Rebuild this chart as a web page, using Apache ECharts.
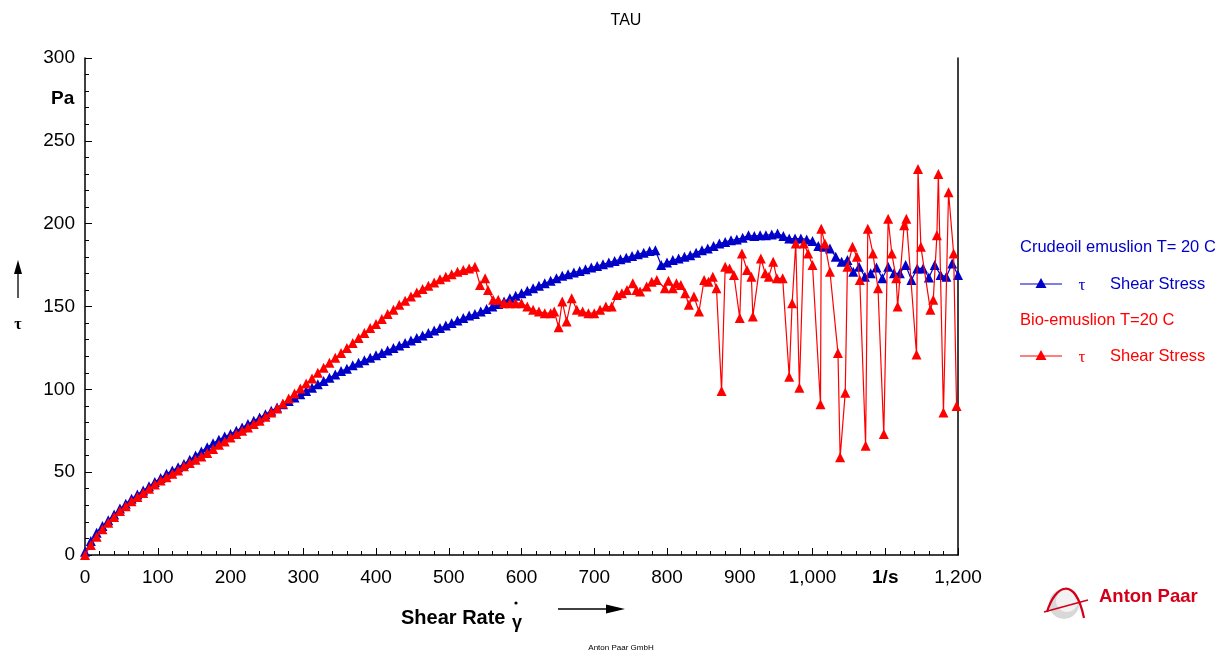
<!DOCTYPE html>
<html><head><meta charset="utf-8">
<script src="https://cdn.jsdelivr.net/npm/echarts@6/dist/echarts.min.js"></script>
<style>html,body{margin:0;padding:0;background:#fff;}#c{width:1227px;height:654px;}</style>
</head><body><div id="c"></div>
<script>
const titleText = 'TAU';
const xTicks = [0,100,200,300,400,500,600,700,800,900,1000,1100,1200];
const yTicks = [0,50,100,150,200,250,300];
const blueName = 'Crudeoil emuslion T= 20 C';
const redName = 'Bio-emuslion T=20 C';
const seriesLabel = 'Shear Stress';

const blueX = [0,8,16,24,32,40,48,56,64,72,80,88,96,104,112,120,128,136,144,152,160,168,176,184,192,200,208,216,224,232,240,248,256,264,272,280,288,296,304,312,320,328,336,344,352,360,368,376,384,392,400,408,416,424,432,440,448,456,464,472,480,488,496,504,512,520,528,536,544,552,560,568,576,584,592,600,608,616,624,632,640,648,656,664,672,680,688,696,704,712,720,728,736,744,752,760,768,776,784,792,800,808,816,824,832,840,848,856,864,872,880,888,896,904,912,920,928,936,944,952,960,968,976,984,992,1000,1008,1016,1024,1032,1040,1048,1056,1064,1072,1080,1088,1096,1104,1112,1120,1128,1136,1144,1152,1160,1168,1176,1184,1192,1200];
const blueY = [2,8.5,13.5,17.5,21,24.5,28,31,34,36.5,
39,41.5,44,46.5,49,51,53,55,57.5,60,
62.5,65,67.5,69.5,71.5,73,75,77,79,81,
83,85,87,89,91,93,95,97,99,101,
103,105,107,109,111,112.5,114.5,116,117.5,119,
120.5,122,123.5,125,126.5,128,129.5,131,132.5,134,
135.5,137,138.5,140,141.5,143,144.5,145.5,147,148.5,
150,151.5,153,155,156.5,158,159.5,161,162.5,164,
165.5,167,168.5,169.5,170.5,171.5,172.5,173.5,174.5,175.5,
176.5,177.5,178.5,179.5,180.5,181.5,182.5,183.5,184,175,
176.5,178,179,180,181,182.5,184,185,186.5,188,
189,190,190.5,191.5,193,192.5,193,193,193.5,194,
192.5,191,191,191,190.5,189.5,186.5,186,185,180,
177,178,171,174,168,170,173.5,167,174,170,
170,175,166,173,173,167.5,175,169,168,176,
169];

const redX = [0,8,16,24,32,40,48,56,64,72,80,88,96,104,112,120,128,136,144,152,160,168,176,184,192,200,208,216,224,232,240,248,256,264,272,280,288,296,304,312,320,328,336,344,352,360,368,376,384,392,400,408,416,424,432,440,448,456,464,472,480,488,496,504,512,520,528,536,
543,550,554,561,568,576,584,592,600,608,616,624,632,640,645,651,656,662,669,676,684,692,700,708,716,724,731,738,745,753,758,763,772,779,786,797,802,808,813,819,825,830,837,844,851,857,863,868,875,880,886,892,900,903,910,916,918,929,935,940,946,951,959,968,972,977,982,988,994,1000,1011,1012,1017,1024,1035,1038,1045,1048,1055,1061,1065,1073,1076,1083,1090,1098,1104,1109,1115,1117,1126,1129,1143,1145,1149,1162,1166,1171,1173,1180,1187,1194,1198];
const redY = [0,6,11,15.5,19.5,23,26.5,29.5,32.5,35,
37.5,40,42.5,45,47,49,51,53.5,55.5,57.5,
59.5,61.5,64,66.5,68.5,71,73,75,77,79,
81,83.5,86,88.5,91.5,94.5,97.5,100.5,103.5,106.5,
110,113,116,119,122,125,128,131,134,137,
139.5,142.5,145.5,148,151,153.5,156,158.5,160.5,162.5,
164.5,166.5,168,169.5,171,172,173,174,
163,167,160,154,154,152,152,152,152,150,148,147,146,146,147,137.5,153,141,155,148,147,146,146,148,150,150,157,158,160,164,160,159,162,165,166,161,165.5,161,164,163,158,151,156,147,166,165,168,161,99,174,173,169,143,182,172,168,144,179,170,168,177,167,167,107.6,152,188,101,188,182,175,91,197,188,171,122,59,98,174,186,180,166,66,197,182,161,73,203,182,167,150,199,203,121,233,186,148,154,193,230,86,219,182,90];

const BLUE = '#0000C8';
const RED = '#FF0000';
const FONT = 'Liberation Sans, Arial, sans-serif';

const blueData = blueX.map((x,i)=>[x, blueY[i]]);
const redData = redX.map((x,i)=>[x, redY[i]]);

const chart = echarts.init(document.getElementById('c'));
function tri(cx, cy, color){
  return {type:'polygon', shape:{points:[[cx,cy-6],[cx-5.5,cy+4],[cx+5.5,cy+4]]}, style:{fill:color}};
}
const option = {
  backgroundColor:'#fff',
  animation:false,
  title:{text:titleText, left:621, top:8, textAlign:'center', textStyle:{fontFamily:FONT, fontSize:16, fontWeight:'normal', color:'#000'}},
  grid:{left:85, right:269, top:58, bottom:99},
  xAxis:{type:'value', min:0, max:1200, interval:100,
    axisLine:{lineStyle:{color:'#000', width:1.5}},
    axisTick:{inside:true, length:7, lineStyle:{color:'#000'}},
    minorTick:{show:true, splitNumber:5, length:4, lineStyle:{color:'#000'}},
    splitLine:{show:false},
    axisLabel:{fontFamily:FONT, fontSize:19, color:'#000', margin:13,
      formatter:function(v){ if(v===1100) return '{b|1/s}'; return v>=1000 ? (Math.floor(v/1000)+','+String(v%1000).padStart(3,'0')) : String(v); },
      rich:{b:{fontFamily:FONT, fontSize:19, fontWeight:'bold', color:'#000'}}}
  },
  yAxis:[{type:'value', min:0, max:300, interval:50,
    axisLine:{show:true, lineStyle:{color:'#000', width:1.5}},
    axisTick:{show:true, inside:true, length:7, lineStyle:{color:'#000'}},
    minorTick:{show:true, splitNumber:5, length:4, lineStyle:{color:'#000'}},
    splitLine:{show:false},
    axisLabel:{fontFamily:FONT, fontSize:19, color:'#000', margin:10}
  },{type:'value', min:0, max:300, position:'right',
    axisLine:{show:true, lineStyle:{color:'#000', width:1.5}},
    axisTick:{show:false}, axisLabel:{show:false}, splitLine:{show:false}}],
  series:[
    {type:'line', name:blueName, data:blueData, symbol:'triangle', symbolSize:10, showAllSymbol:true,
      lineStyle:{color:BLUE, width:1.2}, itemStyle:{color:BLUE}, z:2},
    {type:'line', name:redName, data:redData, symbol:'triangle', symbolSize:10, showAllSymbol:true,
      lineStyle:{color:RED, width:1.2}, itemStyle:{color:RED}, z:3}
  ],
  graphic:[
    {type:'text', left:51, top:89, style:{text:'Pa', font:'bold 19px '+FONT, fill:'#000'}},
    {type:'line', shape:{x1:18,y1:298,x2:18,y2:272}, style:{stroke:'#000', lineWidth:1.3}},
    {type:'polygon', shape:{points:[[18,260],[14,274],[22,274]]}, style:{fill:'#000'}},
    {type:'text', x:18, y:325, style:{text:'τ', font:'bold 16px Liberation Serif, serif', fill:'#000', align:'center', verticalAlign:'middle'}},
    {type:'text', x:401, y:618, style:{text:'Shear Rate', font:'bold 20px '+FONT, fill:'#000', verticalAlign:'middle'}},
    {type:'text', x:517, y:623, style:{text:'γ', font:'bold 18px '+FONT, fill:'#000', align:'center', verticalAlign:'middle'}},
    {type:'circle', shape:{cx:516, cy:603, r:1.6}, style:{fill:'#000'}},
    {type:'line', shape:{x1:558,y1:609,x2:608,y2:609}, style:{stroke:'#000', lineWidth:1.3}},
    {type:'polygon', shape:{points:[[625,609],[606,604.5],[606,613.5]]}, style:{fill:'#000'}},
    {type:'text', x:1020, y:247, style:{text:blueName, font:'16.5px '+FONT, fill:BLUE, verticalAlign:'middle'}},
    {type:'line', shape:{x1:1020,y1:284,x2:1062,y2:284}, style:{stroke:BLUE, lineWidth:1.2}},
    tri(1041,284,BLUE),
    {type:'text', x:1082, y:286, style:{text:'τ', font:'17px Liberation Serif, serif', fill:BLUE, align:'center', verticalAlign:'middle'}},
    {type:'text', x:1110, y:284, style:{text:seriesLabel, font:'16.5px '+FONT, fill:BLUE, verticalAlign:'middle'}},
    {type:'text', x:1020, y:320, style:{text:redName, font:'16.5px '+FONT, fill:RED, verticalAlign:'middle'}},
    {type:'line', shape:{x1:1020,y1:356,x2:1062,y2:356}, style:{stroke:RED, lineWidth:1.2}},
    tri(1041,356,RED),
    {type:'text', x:1082, y:358, style:{text:'τ', font:'17px Liberation Serif, serif', fill:RED, align:'center', verticalAlign:'middle'}},
    {type:'text', x:1110, y:356, style:{text:seriesLabel, font:'16.5px '+FONT, fill:RED, verticalAlign:'middle'}},
    {type:'circle', shape:{cx:1064, cy:604, r:15}, style:{fill:'#d8d8d8'}},
    {type:'circle', shape:{cx:1067, cy:601, r:11}, style:{fill:'#f2f2f2'}},
    {type:'bezierCurve', shape:{x1:1047,y1:612,x2:1084,y2:618,cpx1:1055,cpy1:585,cpx2:1075,cpy2:575}, style:{stroke:'#d4001a', lineWidth:2.2, fill:null}},
    {type:'line', shape:{x1:1044,y1:612,x2:1088,y2:600}, style:{stroke:'#d4001a', lineWidth:1.8}},
    {type:'text', x:1099, y:597, style:{text:'Anton Paar', font:'bold 18.5px '+FONT, fill:'#d4001a', verticalAlign:'middle'}},
    {type:'text', x:621, y:648, style:{text:'Anton Paar GmbH', font:'8px '+FONT, fill:'#000', align:'center', verticalAlign:'middle'}}
  ]
};
chart.setOption(option);
</script></body></html>
